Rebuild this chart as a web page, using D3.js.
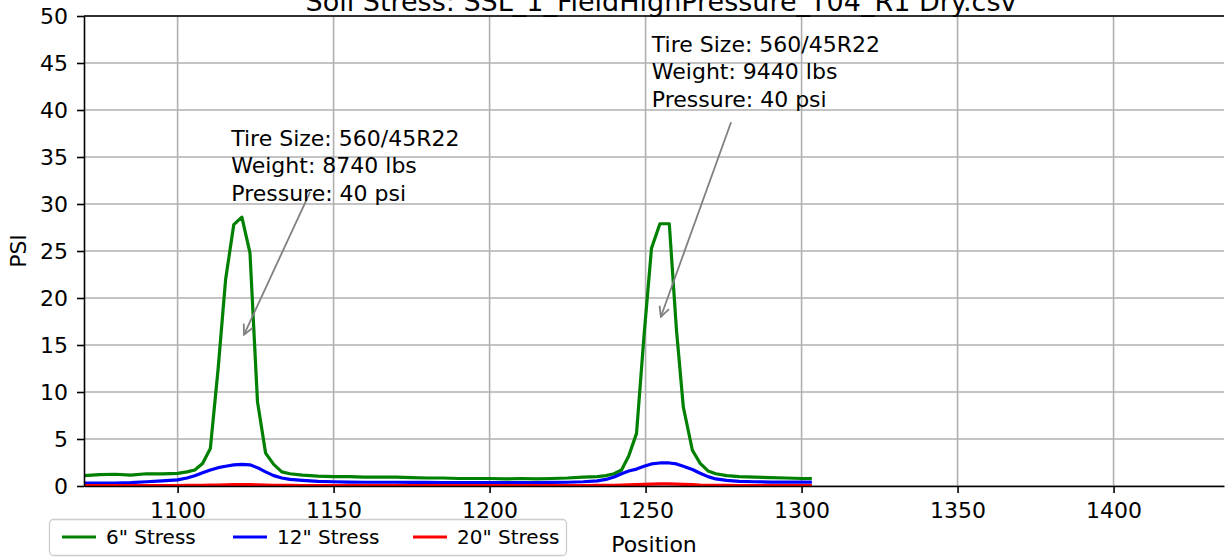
<!DOCTYPE html>
<html lang="en">
<head>
<meta charset="UTF-8">
<title>Soil Stress</title>
<script src="https://d3js.org/d3.v7.min.js"></script>
<style>
  body { margin: 0; background: #fff; }
  svg { display: block; font-family: "DejaVu Sans", sans-serif; }
</style>
</head>
<body>
<div id="chart"></div>
<script>

// sample positions along the run
var positions = [1070, 1075, 1080, 1085, 1090, 1095, 1100, 1103, 1105.5, 1108, 1110.5, 1113, 1115.4, 1118, 1120.6, 1123.2, 1125.6, 1128.2, 1130.8, 1133.4, 1136, 1140, 1145, 1150, 1155, 1160, 1165, 1170, 1175, 1180, 1185, 1190, 1195, 1200, 1205, 1210, 1215, 1220, 1225, 1230, 1234.5, 1237.3, 1239.9, 1242.3, 1244.6, 1247.1, 1249.5, 1251.9, 1254.6, 1257.6, 1259.9, 1262.1, 1265, 1267.5, 1270, 1272.5, 1276, 1280, 1285, 1290, 1295, 1300, 1303.3];

var stress6 = [1.1, 1.2, 1.25, 1.15, 1.3, 1.3, 1.35, 1.5, 1.7, 2.4, 4.0, 12.5, 22.0, 27.8, 28.6, 24.8, 9.0, 3.5, 2.3, 1.5, 1.3, 1.15, 1.05, 1.0, 1.0, 0.95, 0.95, 0.95, 0.9, 0.85, 0.85, 0.8, 0.8, 0.8, 0.75, 0.8, 0.75, 0.8, 0.85, 0.95, 1.0, 1.1, 1.3, 1.7, 3.2, 5.6, 16.0, 25.3, 27.9, 27.9, 16.6, 8.4, 3.8, 2.4, 1.6, 1.3, 1.1, 1.0, 0.95, 0.9, 0.85, 0.8, 0.8];

var stress12 = [0.3, 0.3, 0.3, 0.35, 0.45, 0.55, 0.65, 0.85, 1.1, 1.4, 1.7, 1.95, 2.1, 2.25, 2.3, 2.25, 1.95, 1.5, 1.1, 0.85, 0.7, 0.6, 0.5, 0.45, 0.42, 0.4, 0.4, 0.4, 0.38, 0.38, 0.36, 0.36, 0.36, 0.35, 0.35, 0.36, 0.36, 0.38, 0.4, 0.45, 0.55, 0.7, 0.95, 1.3, 1.6, 1.8, 2.1, 2.35, 2.45, 2.45, 2.35, 2.1, 1.75, 1.35, 1.0, 0.75, 0.6, 0.5, 0.45, 0.42, 0.42, 0.42, 0.42];

var stress20 = [0.05, 0.05, 0.05, 0.05, 0.05, 0.05, 0.05, 0.06, 0.07, 0.08, 0.09, 0.1, 0.12, 0.14, 0.15, 0.14, 0.12, 0.1, 0.08, 0.07, 0.06, 0.05, 0.05, 0.05, 0.05, 0.05, 0.05, 0.05, 0.05, 0.05, 0.05, 0.05, 0.05, 0.05, 0.05, 0.05, 0.05, 0.05, 0.05, 0.05, 0.06, 0.07, 0.08, 0.1, 0.12, 0.14, 0.17, 0.2, 0.22, 0.22, 0.2, 0.17, 0.14, 0.1, 0.08, 0.07, 0.06, 0.05, 0.05, 0.05, 0.05, 0.05, 0.05];

var seriesNames = ['6" Stress', '12" Stress', '20" Stress'];
var seriesColors = ["#008000", "#0000ff", "#ff0000"];

var xTicks = [1100, 1150, 1200, 1250, 1300, 1350, 1400];
var yTicks = [0, 5, 10, 15, 20, 25, 30, 35, 40, 45, 50];

var titleText = "Soil Stress: SSL_1_FieldHighPressure_T04_R1 Dry.csv";

// annotations: text anchor (data), arrow start, arrow tip
var noteLines = [
  ["Tire Size: 560/45R22", "Weight: 8740 lbs", "Pressure: 40 psi"],
  ["Tire Size: 560/45R22", "Weight: 9440 lbs", "Pressure: 40 psi"]
];
var noteText = [[1117.2, 36.2], [1252.0, 46.2]];
var noteFrom = [[1142.5, 31.3], [1277.4, 38.7]];
var noteTo = [[1121.3, 16.1], [1254.9, 18.0]];

// dimensions
var W = 1225, H = 558;
var margin = {top: 16, left: 84};
var plotW = 1140, plotH = 470;

var svg = d3.select("#chart")
  .append("svg")
    .attr("width", W)
    .attr("height", H);

var x = d3.scaleLinear()
  .domain([1070, 1435.4])
  .range([margin.left, margin.left + plotW]);

var y = d3.scaleLinear()
  .domain([0, 50])
  .range([margin.top + plotH, margin.top]);

svg.append("clipPath")
    .attr("id", "plotclip")
  .append("rect")
    .attr("x", margin.left)
    .attr("y", margin.top)
    .attr("width", plotW)
    .attr("height", plotH);

// grid
svg.append("g")
  .selectAll("line.gx")
  .data(xTicks)
  .enter().append("line")
    .attr("x1", d => x(d)).attr("x2", d => x(d))
    .attr("y1", margin.top).attr("y2", margin.top + plotH)
    .attr("stroke", "#b0b0b0")
    .attr("stroke-width", 1.6);

svg.append("g")
  .selectAll("line.gy")
  .data(yTicks)
  .enter().append("line")
    .attr("x1", margin.left).attr("x2", margin.left + plotW)
    .attr("y1", d => y(d)).attr("y2", d => y(d))
    .attr("stroke", "#b0b0b0")
    .attr("stroke-width", 1.6);

// lines
var rows = positions.map(function(p, i) {
  return {pos: p, vals: [stress6[i], stress12[i], stress20[i]]};
});

var plotG = svg.append("g").attr("clip-path", "url(#plotclip)");

seriesNames.forEach(function(name, k) {
  var line = d3.line()
    .x(d => x(d.pos))
    .y(d => y(d.vals[k]));
  plotG.append("path")
    .datum(rows)
    .attr("fill", "none")
    .attr("stroke", seriesColors[k])
    .attr("stroke-width", 3.2)
    .attr("stroke-linejoin", "round")
    .attr("d", line);
});

// annotations
svg.append("defs").append("marker")
    .attr("id", "openarrow")
    .attr("viewBox", "0 0 12 12")
    .attr("refX", 11)
    .attr("refY", 6)
    .attr("markerWidth", 12)
    .attr("markerHeight", 12)
    .attr("markerUnits", "userSpaceOnUse")
    .attr("orient", "auto")
  .append("path")
    .attr("d", "M1,1 L11,6 L1,11")
    .attr("fill", "none")
    .attr("stroke", "#808080")
    .attr("stroke-width", 1.8);

noteLines.forEach(function(lines, k) {
  svg.append("line")
    .attr("x1", x(noteFrom[k][0])).attr("y1", y(noteFrom[k][1]))
    .attr("x2", x(noteTo[k][0])).attr("y2", y(noteTo[k][1]))
    .attr("stroke", "#808080")
    .attr("stroke-width", 1.8)
    .attr("marker-end", "url(#openarrow)");

  var t = svg.append("text")
    .attr("x", x(noteText[k][0]))
    .attr("y", y(noteText[k][1]))
    .style("font-size", "22px")
    .attr("fill", "#000");
  lines.forEach(function(s, j) {
    t.append("tspan")
      .attr("x", x(noteText[k][0]))
      .attr("dy", j === 0 ? 0 : 27.5)
      .text(s);
  });
});

// axes
var xAxis = svg.append("g")
  .attr("transform", "translate(0," + (margin.top + plotH) + ")")
  .call(d3.axisBottom(x).tickValues(xTicks).tickSizeInner(7).tickSizeOuter(0).tickPadding(9).tickFormat(d3.format("d")));

var yAxis = svg.append("g")
  .attr("transform", "translate(" + margin.left + ",0)")
  .call(d3.axisLeft(y).tickValues(yTicks).tickSizeInner(7).tickSizeOuter(0).tickPadding(9));
yAxis.selectAll("text").attr("dy", "0.36em");

[xAxis, yAxis].forEach(function(a) {
  a.attr("font-family", "DejaVu Sans").attr("font-size", 22);
  a.selectAll("text").attr("fill", "#000");
  a.select(".domain").attr("stroke", "#000").attr("stroke-width", 1.6);
  a.selectAll(".tick line").attr("stroke", "#000").attr("stroke-width", 1.6);
});

// top spine
svg.append("line")
  .attr("x1", margin.left).attr("x2", margin.left + plotW)
  .attr("y1", margin.top).attr("y2", margin.top)
  .attr("stroke", "#000")
  .attr("stroke-width", 1.6);

// labels
svg.append("text")
  .attr("x", 661)
  .attr("y", 11)
  .attr("text-anchor", "middle")
  .style("font-size", "27px")
  .text(titleText);

svg.append("text")
  .attr("x", 654)
  .attr("y", 552)
  .attr("text-anchor", "middle")
  .style("font-size", "22px")
  .text("Position");

svg.append("text")
  .attr("transform", "translate(26," + (margin.top + plotH / 2) + ") rotate(-90)")
  .attr("text-anchor", "middle")
  .style("font-size", "22px")
  .text("PSI");

// legend
var legend = svg.append("g");
legend.append("rect")
  .attr("x", 49.5).attr("y", 519.5)
  .attr("width", 517).attr("height", 36)
  .attr("rx", 4)
  .attr("fill", "#fff")
  .attr("fill-opacity", 0.8)
  .attr("stroke", "#cccccc")
  .attr("stroke-width", 1.3);

var legendX = [62, 233, 413];
seriesNames.forEach(function(name, k) {
  legend.append("line")
    .attr("x1", legendX[k]).attr("x2", legendX[k] + 34)
    .attr("y1", 537).attr("y2", 537)
    .attr("stroke", seriesColors[k])
    .attr("stroke-width", 3.2);
  legend.append("text")
    .attr("x", legendX[k] + 44)
    .attr("y", 544)
    .style("font-size", "20px")
    .text(name);
});

</script>
</body>
</html>
